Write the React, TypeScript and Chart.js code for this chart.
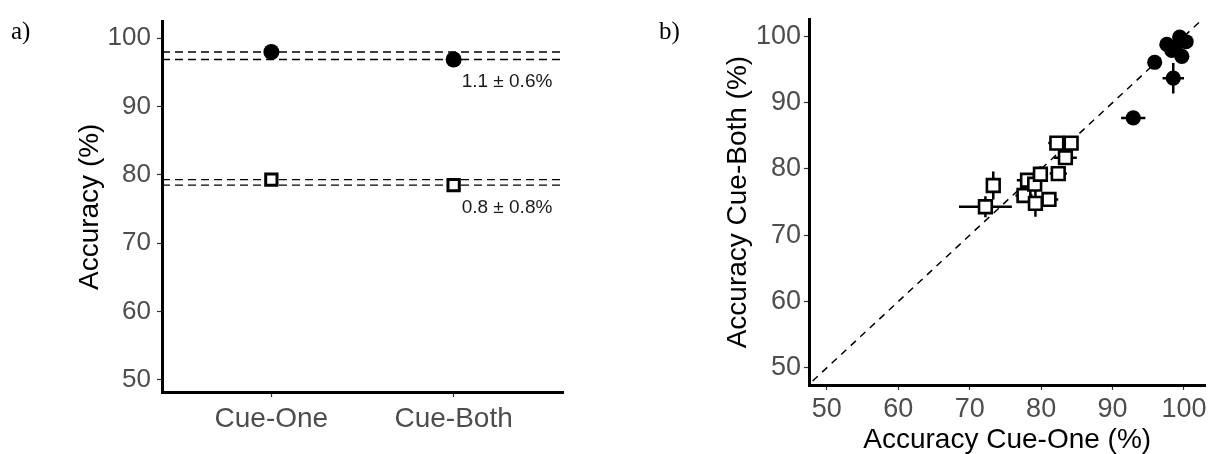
import React, { useEffect, useRef } from "react";
import { Chart, registerables } from "chart.js";
Chart.register(...registerables);

// ---------- data ----------
const conditions = ["Cue-One", "Cue-Both"];
const conditionPos = [1, 2];
const meanHigh = [98.0, 96.9];
const meanLow = [79.3, 78.5];
const diffLabels = ["1.1 ± 0.6%", "0.8 ± 0.8%"];
const yTicks = [50, 60, 70, 80, 90, 100];
const xTicksB = [50, 60, 70, 80, 90, 100];

// panel b: filled circles (high accuracy)
const highX = [95.9, 97.6, 99.4, 100.3, 99.7, 98.3, 98.8, 98.5, 92.9];
const highY = [96.1, 98.8, 99.9, 99.2, 97.0, 97.9, 98.4, 93.7, 87.7];
const highXErr = [0.3, 0.5, 0.3, 0.3, 0.4, 0.5, 0.4, 1.5, 1.7];
const highYErr = [0.3, 0.5, 0.3, 0.3, 0.4, 0.5, 0.4, 2.3, 0.8];

// panel b: open squares (low accuracy)
const lowX = [72.2, 73.3, 77.6, 78.1, 79.1, 79.9, 79.2, 81.1, 82.4, 82.2, 84.2, 83.4];
const lowY = [74.3, 77.5, 76.0, 78.3, 77.7, 79.2, 74.8, 75.4, 79.3, 83.9, 83.9, 81.7];
const lowXErr = [3.7, 0.4, 1.2, 1.5, 0.8, 0.8, 0.8, 1.3, 1.2, 1.2, 0.9, 1.6];
const lowYErr = [1.6, 2.1, 1.0, 0.8, 1.0, 1.2, 2.0, 0.5, 0.6, 0.5, 0.5, 0.7];

const FONT = "'Liberation Sans', Arial, Helvetica, sans-serif";

function scaleBase(min: number, max: number, vals: number[], size: number) {
  return {
    type: "linear" as const,
    min,
    max,
    afterBuildTicks: (s: any) => {
      s.ticks = vals.map((v) => ({ value: v }));
    },
    grid: {
      drawOnChartArea: false,
      drawTicks: true,
      tickLength: 5,
      tickWidth: 1.2,
      tickColor: "#333333",
    },
    border: { display: true, color: "#000000", width: 3 },
    ticks: { color: "#4d4d4d", font: { family: FONT, size }, padding: 3 },
  };
}

const pts = (xs: number[], ys: number[]) => xs.map((x, i) => ({ x, y: ys[i] }));

function PanelA() {
  const ref = useRef<HTMLCanvasElement>(null);
  useEffect(() => {
    const hLine = (y: number) => ({
      type: "line" as const,
      data: [
        { x: 0.4, y },
        { x: 2.6, y },
      ],
      showLine: true,
      borderColor: "#000",
      borderWidth: 1.4,
      borderDash: [8, 5],
      pointRadius: 0,
      order: 3,
    });
    const labelPlugin = {
      id: "diffLabels",
      afterDatasetsDraw(chart: any) {
        const { ctx, scales } = chart;
        ctx.save();
        ctx.font = `19px ${FONT}`;
        ctx.fillStyle = "#1a1a1a";
        ctx.textAlign = "left";
        ctx.textBaseline = "middle";
        const x = scales.x.getPixelForValue(conditionPos[1]) + 8;
        ctx.fillText(diffLabels[0], x, scales.y.getPixelForValue(meanHigh[1]) + 22);
        ctx.fillText(diffLabels[1], x, scales.y.getPixelForValue(meanLow[1]) + 23);
        ctx.restore();
      },
    };
    const chart = new Chart(ref.current!, {
      type: "scatter",
      data: {
        datasets: [
          {
            data: pts(conditionPos, meanHigh),
            pointStyle: "circle",
            pointRadius: 8,
            backgroundColor: "#000",
            borderWidth: 0,
            order: 1,
            clip: false,
          } as any,
          {
            data: pts(conditionPos, meanLow),
            pointStyle: "rect",
            pointRadius: 8,
            backgroundColor: "#fff",
            borderColor: "#000",
            borderWidth: 3,
            order: 2,
            clip: false,
          },
          hLine(meanHigh[0]),
          hLine(meanHigh[1]),
          hLine(meanLow[0]),
          hLine(meanLow[1]),
        ],
      },
      options: {
        responsive: false,
        animation: false,
        devicePixelRatio: 1,
        layout: { padding: { left: 0, top: 15, right: 37, bottom: 0 } },
        plugins: { legend: { display: false }, tooltip: { enabled: false } },
        scales: {
          x: {
            ...scaleBase(0.4, 2.6, conditionPos, 28),
            ticks: {
              color: "#4d4d4d",
              font: { family: FONT, size: 28 },
              padding: 5,
              callback: (v: any) => conditions[conditionPos.indexOf(v)] ?? "",
            },
            afterFit: (s: any) => {
              s.height = 62;
            },
          },
          y: {
            ...scaleBase(48.2, 102.45, yTicks, 26),
            ticks: { color: "#4d4d4d", font: { family: FONT, size: 26 }, padding: 6 },
            title: {
              display: true,
              text: "Accuracy (%)",
              color: "#000",
              font: { family: FONT, size: 28 },
              padding: { top: 73, bottom: 0 },
            },
            afterFit: (s: any) => {
              s.width = 162;
            },
          },
        } as any,
      },
      plugins: [labelPlugin],
    });
    return () => chart.destroy();
  }, []);
  return (
    <canvas
      ref={ref}
      width={600}
      height={454}
      style={{ position: "absolute", left: 0, top: 0, width: 600, height: 454 }}
    />
  );
}

function PanelB() {
  const ref = useRef<HTMLCanvasElement>(null);
  useEffect(() => {
    const errPlugin = {
      id: "errBars",
      beforeDatasetDraw(chart: any, args: any) {
        if (args.index !== 1) return;
        const { ctx, scales } = chart;
        const xs = scales.x;
        const ys = scales.y;
        ctx.save();
        ctx.strokeStyle = "#000";
        ctx.lineWidth = 2.5;
        const draw = (X: number[], Y: number[], EX: number[], EY: number[]) => {
          X.forEach((x, i) => {
            const y = Y[i];
            ctx.beginPath();
            ctx.moveTo(xs.getPixelForValue(x - EX[i]), ys.getPixelForValue(y));
            ctx.lineTo(xs.getPixelForValue(x + EX[i]), ys.getPixelForValue(y));
            ctx.moveTo(xs.getPixelForValue(x), ys.getPixelForValue(y - EY[i]));
            ctx.lineTo(xs.getPixelForValue(x), ys.getPixelForValue(y + EY[i]));
            ctx.stroke();
          });
        };
        draw(lowX, lowY, lowXErr, lowYErr);
        draw(highX, highY, highXErr, highYErr);
        ctx.restore();
      },
    };
    const chart = new Chart(ref.current!, {
      type: "scatter",
      data: {
        datasets: [
          {
            data: pts(highX, highY),
            pointStyle: "circle",
            pointRadius: 7.6,
            backgroundColor: "#000",
            borderWidth: 0,
            order: 1,
            clip: false,
          } as any,
          {
            data: pts(lowX, lowY),
            pointStyle: "rect",
            pointRadius: 9,
            backgroundColor: "#fff",
            borderColor: "#000",
            borderWidth: 2.6,
            order: 2,
            clip: false,
          },
          {
            type: "line" as const,
            data: [
              { x: 40, y: 40 },
              { x: 110, y: 110 },
            ],
            showLine: true,
            borderColor: "#000",
            borderWidth: 1.5,
            borderDash: [7, 6],
            pointRadius: 0,
            order: 3,
          },
        ],
      },
      options: {
        responsive: false,
        animation: false,
        devicePixelRatio: 1,
        layout: { padding: { left: 0, top: 15, right: 9, bottom: 0 } },
        plugins: { legend: { display: false }, tooltip: { enabled: false } },
        scales: {
          x: {
            ...scaleBase(47.5, 103, xTicksB, 27),
            title: {
              display: true,
              text: "Accuracy Cue-One (%)",
              color: "#000",
              font: { family: FONT, size: 28 },
              padding: { top: 0, bottom: 3 },
            },
            afterFit: (s: any) => {
              s.height = 75;
            },
          },
          y: {
            ...scaleBase(47.4, 102.6, yTicks, 27),
            title: {
              display: true,
              text: "Accuracy Cue-Both (%)",
              color: "#000",
              font: { family: FONT, size: 28 },
              padding: { top: 121, bottom: 0 },
            },
            afterFit: (s: any) => {
              s.width = 209;
            },
          },
        } as any,
      },
      plugins: [errPlugin],
    });
    return () => chart.destroy();
  }, []);
  return (
    <canvas
      ref={ref}
      width={617}
      height={460}
      style={{ position: "absolute", left: 600, top: 0, width: 617, height: 460 }}
    />
  );
}

export default function App() {
  const lbl: React.CSSProperties = {
    position: "absolute",
    top: 17,
    fontFamily: "'Liberation Serif', 'DejaVu Serif', serif",
    fontSize: 25,
    lineHeight: "28px",
    color: "#000",
  };
  return (
    <div
      style={{
        position: "fixed",
        left: 0,
        top: 0,
        width: 1217,
        height: 454,
        overflow: "hidden",
        background: "#fff",
      }}
    >
      <PanelA />
      <PanelB />
      <div style={{ ...lbl, left: 11 }}>a)</div>
      <div style={{ ...lbl, left: 659 }}>b)</div>
    </div>
  );
}
